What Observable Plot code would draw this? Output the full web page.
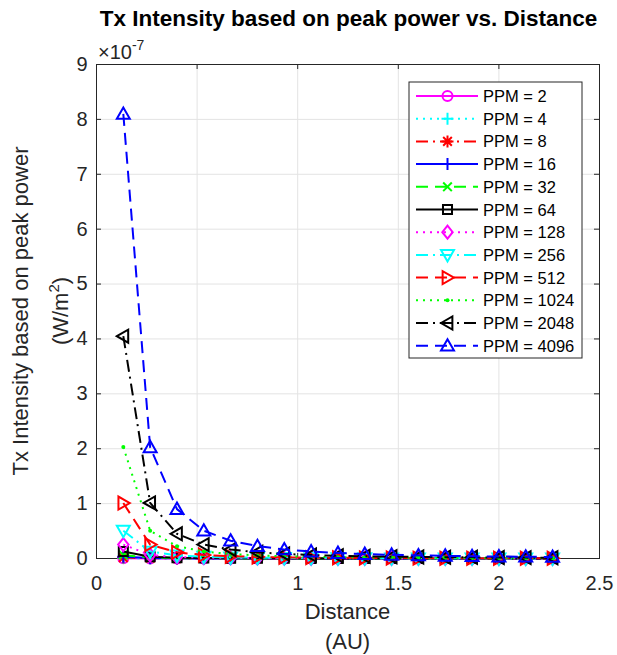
<!DOCTYPE html>
<html>
<head>
<meta charset="utf-8">
<script src="https://cdn.jsdelivr.net/npm/d3@7"></script>
<script src="https://cdn.jsdelivr.net/npm/@observablehq/plot@0.6"></script>
<style>
  body { margin: 0; background: #fff; }
  #chart { width: 617px; height: 655px; }
</style>
</head>
<body>
<div id="chart"></div>
<script>
// ---------- DATA (intensity in units of 1e-7 W/m^2) ----------
const distance = [0.1333, 0.2667, 0.4, 0.5333, 0.6667, 0.8, 0.9333, 1.0667, 1.2, 1.3333, 1.4667, 1.6, 1.7333, 1.8667, 2.0, 2.1333, 2.2667];

const ppmLevels = [2, 4, 8, 16, 32, 64, 128, 256, 512, 1024, 2048, 4096];

const intensityPPM2    = [0.004, 0.001, 0.0004, 0.0003, 0.0002, 0.0001, 0.0001, 0.0001, 0, 0, 0, 0, 0, 0, 0, 0, 0];
const intensityPPM4    = [0.008, 0.002, 0.0009, 0.0005, 0.0003, 0.0002, 0.0002, 0.0001, 0.0001, 0.0001, 0.0001, 0.0001, 0, 0, 0, 0, 0];
const intensityPPM8    = [0.016, 0.004, 0.0018, 0.001, 0.0006, 0.0004, 0.0003, 0.0002, 0.0002, 0.0002, 0.0001, 0.0001, 0.0001, 0.0001, 0.0001, 0.0001, 0.0001];
const intensityPPM16   = [0.032, 0.008, 0.0035, 0.002, 0.0013, 0.0009, 0.0006, 0.0005, 0.0004, 0.0003, 0.0003, 0.0002, 0.0002, 0.0002, 0.0001, 0.0001, 0.0001];
const intensityPPM32   = [0.063, 0.016, 0.007, 0.004, 0.0025, 0.0018, 0.0013, 0.001, 0.0008, 0.0006, 0.0005, 0.0004, 0.0004, 0.0003, 0.0003, 0.0002, 0.0002];
const intensityPPM64   = [0.127, 0.032, 0.014, 0.008, 0.005, 0.0035, 0.0026, 0.002, 0.0016, 0.0013, 0.001, 0.0009, 0.0007, 0.0006, 0.0006, 0.0005, 0.0004];
const intensityPPM128  = [0.253, 0.063, 0.028, 0.016, 0.01, 0.007, 0.005, 0.004, 0.003, 0.0025, 0.002, 0.0018, 0.0015, 0.0013, 0.0011, 0.001, 0.0009];
const intensityPPM256  = [0.506, 0.127, 0.056, 0.032, 0.02, 0.014, 0.01, 0.008, 0.006, 0.005, 0.004, 0.0035, 0.003, 0.0026, 0.0022, 0.002, 0.0018];
const intensityPPM512  = [1.01, 0.253, 0.113, 0.063, 0.041, 0.028, 0.021, 0.016, 0.0125, 0.01, 0.0084, 0.007, 0.006, 0.005, 0.0045, 0.004, 0.0035];
const intensityPPM1024 = [2.03, 0.506, 0.225, 0.127, 0.081, 0.056, 0.041, 0.032, 0.025, 0.02, 0.017, 0.014, 0.012, 0.01, 0.009, 0.008, 0.007];
const intensityPPM2048 = [4.05, 1.013, 0.45, 0.253, 0.162, 0.1125, 0.083, 0.063, 0.05, 0.041, 0.033, 0.028, 0.024, 0.021, 0.018, 0.016, 0.014];
const intensityPPM4096 = [8.1, 2.025, 0.9, 0.506, 0.324, 0.225, 0.165, 0.127, 0.1, 0.081, 0.067, 0.056, 0.048, 0.041, 0.036, 0.032, 0.028];

const seriesValues = [intensityPPM2, intensityPPM4, intensityPPM8, intensityPPM16, intensityPPM32, intensityPPM64,
  intensityPPM128, intensityPPM256, intensityPPM512, intensityPPM1024, intensityPPM2048, intensityPPM4096];

const xTicks = [0, 0.5, 1, 1.5, 2, 2.5];
const xTickLabels = ["0", "0.5", "1", "1.5", "2", "2.5"];
const yTicks = [0, 1, 2, 3, 4, 5, 6, 7, 8, 9];
const yTickLabels = ["0", "1", "2", "3", "4", "5", "6", "7", "8", "9"];

const titleText = "Tx Intensity based on peak power vs. Distance";
const xLabelLines = ["Distance", "(AU)"];
const yLabelLine1 = "Tx Intensity based on peak power";

// ---------- STYLES ----------
const DASHED = "12,7", DOTTED = "2,5", DASHDOT = "12,5,2,5", SOLID = null;
const styles = [
  {color: "#ff00ff", dash: SOLID,   marker: "circle",   r: 5},
  {color: "#00ffff", dash: DOTTED,  marker: "plus",     r: 6},
  {color: "#ff0000", dash: DASHDOT, marker: "asterisk", r: 6},
  {color: "#0000ff", dash: SOLID,   marker: "plus",     r: 6},
  {color: "#00ff00", dash: DASHED,  marker: "times",    r: 6},
  {color: "#000000", dash: SOLID,   marker: "square",   r: 5.5},
  {color: "#ff00ff", dash: DOTTED,  marker: "diamond",  r: 6.5},
  {color: "#00ffff", dash: DASHDOT, marker: "triDown",  r: 6.5},
  {color: "#ff0000", dash: DASHED,  marker: "triRight", r: 6.5},
  {color: "#00ff00", dash: DOTTED,  marker: "point",    r: 2},
  {color: "#000000", dash: DASHDOT, marker: "triLeft",  r: 6.5},
  {color: "#0000ff", dash: DASHED,  marker: "triUp",    r: 6.5}
];

// custom symbols (size = pi r^2)
const S = (f) => ({draw(c, size) { f(c, Math.sqrt(size / Math.PI)); }});
const sym = {
  circle: S((c, r) => { c.moveTo(r, 0); c.arc(0, 0, r, 0, 2 * Math.PI); c.closePath(); }),
  plus: S((c, r) => { c.moveTo(-r, 0); c.lineTo(r, 0); c.moveTo(0, -r); c.lineTo(0, r); }),
  asterisk: S((c, r) => {
    c.moveTo(-r, 0); c.lineTo(r, 0); c.moveTo(0, -r); c.lineTo(0, r);
    const k = r * 0.72; c.moveTo(-k, -k); c.lineTo(k, k); c.moveTo(-k, k); c.lineTo(k, -k);
  }),
  times: S((c, r) => { const k = r * 0.72; c.moveTo(-k, -k); c.lineTo(k, k); c.moveTo(-k, k); c.lineTo(k, -k); }),
  square: S((c, r) => { const k = r * 0.82; c.moveTo(-k, -k); c.lineTo(k, -k); c.lineTo(k, k); c.lineTo(-k, k); c.closePath(); }),
  diamond: S((c, r) => { c.moveTo(0, -r); c.lineTo(0.8 * r, 0); c.lineTo(0, r); c.lineTo(-0.8 * r, 0); c.closePath(); }),
  triUp: S((c, r) => { c.moveTo(0, -r); c.lineTo(r, 0.75 * r); c.lineTo(-r, 0.75 * r); c.closePath(); }),
  triDown: S((c, r) => { c.moveTo(0, r); c.lineTo(r, -0.75 * r); c.lineTo(-r, -0.75 * r); c.closePath(); }),
  triRight: S((c, r) => { c.moveTo(r, 0); c.lineTo(-0.75 * r, -r); c.lineTo(-0.75 * r, r); c.closePath(); }),
  triLeft: S((c, r) => { c.moveTo(-r, 0); c.lineTo(0.75 * r, -r); c.lineTo(0.75 * r, r); c.closePath(); }),
  point: S((c, r) => { c.moveTo(r, 0); c.arc(0, 0, r, 0, 2 * Math.PI); c.closePath(); })
};

const AXIS_COLOR = "#262626";
const GRID_COLOR = "#e3e3e3";
const LINE_W = 2;

// ---------- MARKS ----------
const seriesMarks = seriesValues.flatMap((vals, k) => {
  const st = styles[k];
  const rows = distance.map((d, i) => ({distance: d, intensity: vals[i]}));
  const isPoint = st.marker === "point";
  return [
    Plot.line(rows, {x: "distance", y: "intensity", stroke: st.color, strokeWidth: LINE_W,
      strokeDasharray: st.dash, strokeLinecap: "butt", strokeLinejoin: "round"}),
    Plot.dot(rows, {x: "distance", y: "intensity", symbol: sym[st.marker], r: st.r,
      stroke: isPoint ? "none" : st.color, fill: isPoint ? st.color : "none", strokeWidth: LINE_W})
  ];
});

const FRAME_W = 617 - 96 - 18, FRAME_H = 655 - 64 - 97, TICK = 5;

const chart = Plot.plot({
  width: 617, height: 655,
  marginLeft: 96, marginRight: 18, marginTop: 64, marginBottom: 97,
  x: {domain: [0, 2.5]},
  y: {domain: [0, 9]},
  style: {fontFamily: "'Liberation Sans', Arial, Helvetica, sans-serif", background: "#fff", overflow: "visible"},
  marks: [
    Plot.gridX({ticks: xTicks, stroke: GRID_COLOR, strokeOpacity: 1, strokeWidth: 1}),
    Plot.gridY({ticks: yTicks, stroke: GRID_COLOR, strokeOpacity: 1, strokeWidth: 1}),
    Plot.ruleX(xTicks, {x: d => d, insetTop: FRAME_H - TICK, stroke: AXIS_COLOR}),
    Plot.ruleX(xTicks, {x: d => d, insetBottom: FRAME_H - TICK, stroke: AXIS_COLOR}),
    Plot.ruleY(yTicks, {y: d => d, insetRight: FRAME_W - TICK, stroke: AXIS_COLOR}),
    Plot.ruleY(yTicks, {y: d => d, insetLeft: FRAME_W - TICK, stroke: AXIS_COLOR}),
    Plot.frame({stroke: AXIS_COLOR, strokeWidth: 1}),
    Plot.axisX({ticks: xTicks, tickSize: 0, tickPadding: 17, label: null, fontSize: 20, color: AXIS_COLOR,
      tickFormat: d => xTickLabels[xTicks.indexOf(d)]}),
    Plot.axisY({ticks: yTicks, tickSize: 0, tickPadding: 9, label: null, fontSize: 20, color: AXIS_COLOR,
      tickFormat: d => yTickLabels[yTicks.indexOf(d)]}),
    ...seriesMarks
  ]
});
document.getElementById("chart").appendChild(chart);

// ---------- ANNOTATIONS & LEGEND ----------
const svg = d3.select(chart);
const xs = chart.scale("x"), ys = chart.scale("y");
const fL = xs.range[0], fR = xs.range[1], fB = ys.range[0], fT = ys.range[1];
const cx = (fL + fR) / 2, cy = (fT + fB) / 2;
const FONT = "'Liberation Sans', Arial, Helvetica, sans-serif";

svg.append("text").attr("x", cx + 1).attr("y", 26).attr("text-anchor", "middle")
  .attr("font-family", FONT).attr("font-size", 22.5).attr("font-weight", "bold").attr("fill", "#000")
  .text(titleText);

const ex = svg.append("text").attr("x", fL + 2).attr("y", fT - 5).attr("text-anchor", "start")
  .attr("font-family", FONT).attr("font-size", 20).attr("fill", AXIS_COLOR);
ex.append("tspan").text("\u00d710");
ex.append("tspan").attr("font-size", 14).attr("dy", -9).text("-7");

xLabelLines.forEach((t, i) => {
  svg.append("text").attr("x", cx).attr("y", fB + 61 + i * 30).attr("text-anchor", "middle")
    .attr("font-family", FONT).attr("font-size", 22).attr("fill", AXIS_COLOR).text(t);
});

svg.append("text").attr("transform", `translate(28,${cy}) rotate(-90)`).attr("text-anchor", "middle")
  .attr("font-family", FONT).attr("font-size", 22).attr("fill", AXIS_COLOR).text(yLabelLine1);
const y2 = svg.append("text").attr("transform", `translate(68,${cy}) rotate(-90)`).attr("text-anchor", "middle")
  .attr("font-family", FONT).attr("font-size", 22).attr("fill", AXIS_COLOR);
y2.append("tspan").text("(W/m");
y2.append("tspan").attr("font-size", 15).attr("dy", -9).text("2");
y2.append("tspan").attr("dy", 9).text(")");

// legend
const bw = 173, bh = 276;
const bx = fR - 17 - bw, by = fT + 18;
const lg = svg.append("g").attr("text-anchor", "start");
lg.append("rect").attr("x", bx).attr("y", by).attr("width", bw).attr("height", bh)
  .attr("fill", "#fff").attr("stroke", AXIS_COLOR).attr("stroke-width", 1);
ppmLevels.forEach((p, k) => {
  const st = styles[k];
  const yy = by + 14 + k * 22.7;
  const isPoint = st.marker === "point";
  lg.append("line").attr("x1", bx + 7).attr("x2", bx + 69).attr("y1", yy).attr("y2", yy)
    .attr("stroke", st.color).attr("stroke-width", LINE_W)
    .attr("stroke-dasharray", st.dash).attr("stroke-linecap", "butt");
  lg.append("path").attr("transform", `translate(${bx + 38.5},${yy})`)
    .attr("d", d3.symbol(sym[st.marker], Math.PI * st.r * st.r)())
    .attr("fill", isPoint ? st.color : "none").attr("stroke", isPoint ? "none" : st.color)
    .attr("stroke-width", LINE_W);
  lg.append("text").attr("x", bx + 74).attr("y", yy + 6).attr("text-anchor", "start")
    .attr("font-family", FONT).attr("font-size", 16.5).attr("fill", "#000").text(`PPM = ${p}`);
});
</script>
</body>
</html>
